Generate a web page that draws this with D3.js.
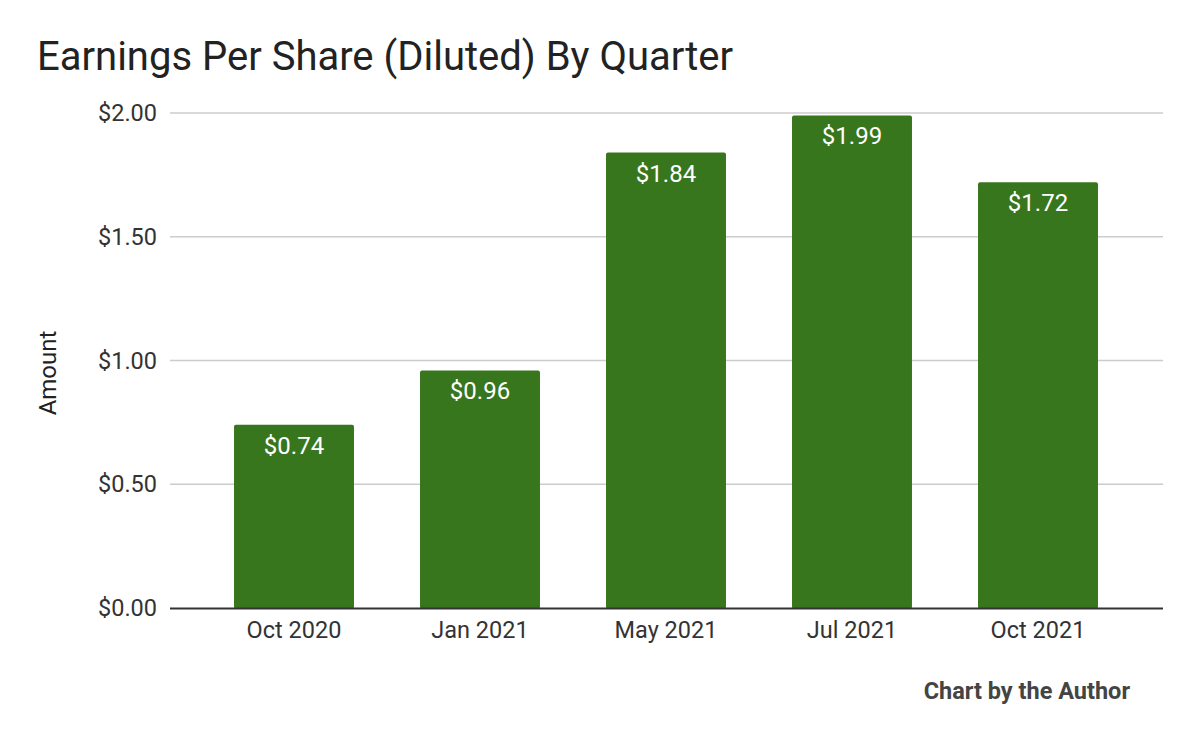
<!DOCTYPE html>
<html><head><meta charset="utf-8">
<script src="https://cdn.jsdelivr.net/npm/d3@7"></script>
<style>body{margin:0;background:#fff}svg{display:block;font-family:Roboto,sans-serif}</style>
</head><body><svg id="c" width="1200" height="742"></svg>
<script>
const categories = ["Oct 2020","Jan 2021","May 2021","Jul 2021","Oct 2021"];
const values = [0.74,0.96,1.84,1.99,1.72];
const tickValues = [0,0.5,1,1.5,2];

const svg = d3.select("#c");
const y = d3.scaleLinear().domain([0,2]).range([608,113]);
const x = d3.scaleBand().domain(categories).range([201,1131]).paddingInner(0.355).paddingOuter(0.1775);
const fmt = d => "$" + d3.format(".2f")(d);

svg.append("text").attr("x",37).attr("y",70).attr("font-size",40).attr("fill","#222").text("Earnings Per Share (Diluted) By Quarter");

const yAxis = d3.axisLeft(y).tickValues(tickValues).tickFormat(fmt).tickSize(0).tickPadding(13);
const gy = svg.append("g").attr("transform","translate(170,0)").call(yAxis);
gy.select(".domain").remove();
gy.selectAll("text").attr("font-size",23.5).attr("fill","#333").attr("font-family","Roboto,sans-serif");
svg.append("g").selectAll("line").data(tickValues.filter(d=>d>0)).join("line")
  .attr("x1",170).attr("x2",1163).attr("y1",d=>y(d)).attr("y2",d=>y(d))
  .attr("stroke","#ccc").attr("stroke-width",1.5);

svg.append("g").selectAll("rect").data(values).join("rect")
  .attr("x",(d,i)=>x(categories[i])).attr("width",x.bandwidth())
  .attr("y",d=>y(d)).attr("height",d=>y(0)-y(d)+1).attr("rx",2)
  .attr("fill","#38761d");

svg.append("line").attr("x1",170).attr("x2",1163).attr("y1",608.5).attr("y2",608.5).attr("stroke","#333").attr("stroke-width",2);

svg.append("g").selectAll("text").data(values).join("text")
  .attr("x",(d,i)=>x(categories[i])+x.bandwidth()/2).attr("y",d=>y(d)+29)
  .attr("text-anchor","middle").attr("font-size",24).attr("fill","#fff").text(fmt);

const xAxis = d3.axisBottom(x).tickSize(0).tickPadding(13);
const gx = svg.append("g").attr("transform","translate(0,608)").call(xAxis);
gx.select(".domain").remove();
gx.selectAll("text").attr("font-size",23.5).attr("fill","#333").attr("font-family","Roboto,sans-serif");

svg.append("text").attr("transform","translate(56,373) rotate(-90)").attr("text-anchor","middle")
  .attr("font-size",24).attr("fill","#222").text("Amount");

svg.append("text").attr("x",1130).attr("y",699).attr("text-anchor","end").attr("font-size",23.5)
  .attr("font-weight","bold").attr("fill","#444").text("Chart by the Author");
</script></body></html>
